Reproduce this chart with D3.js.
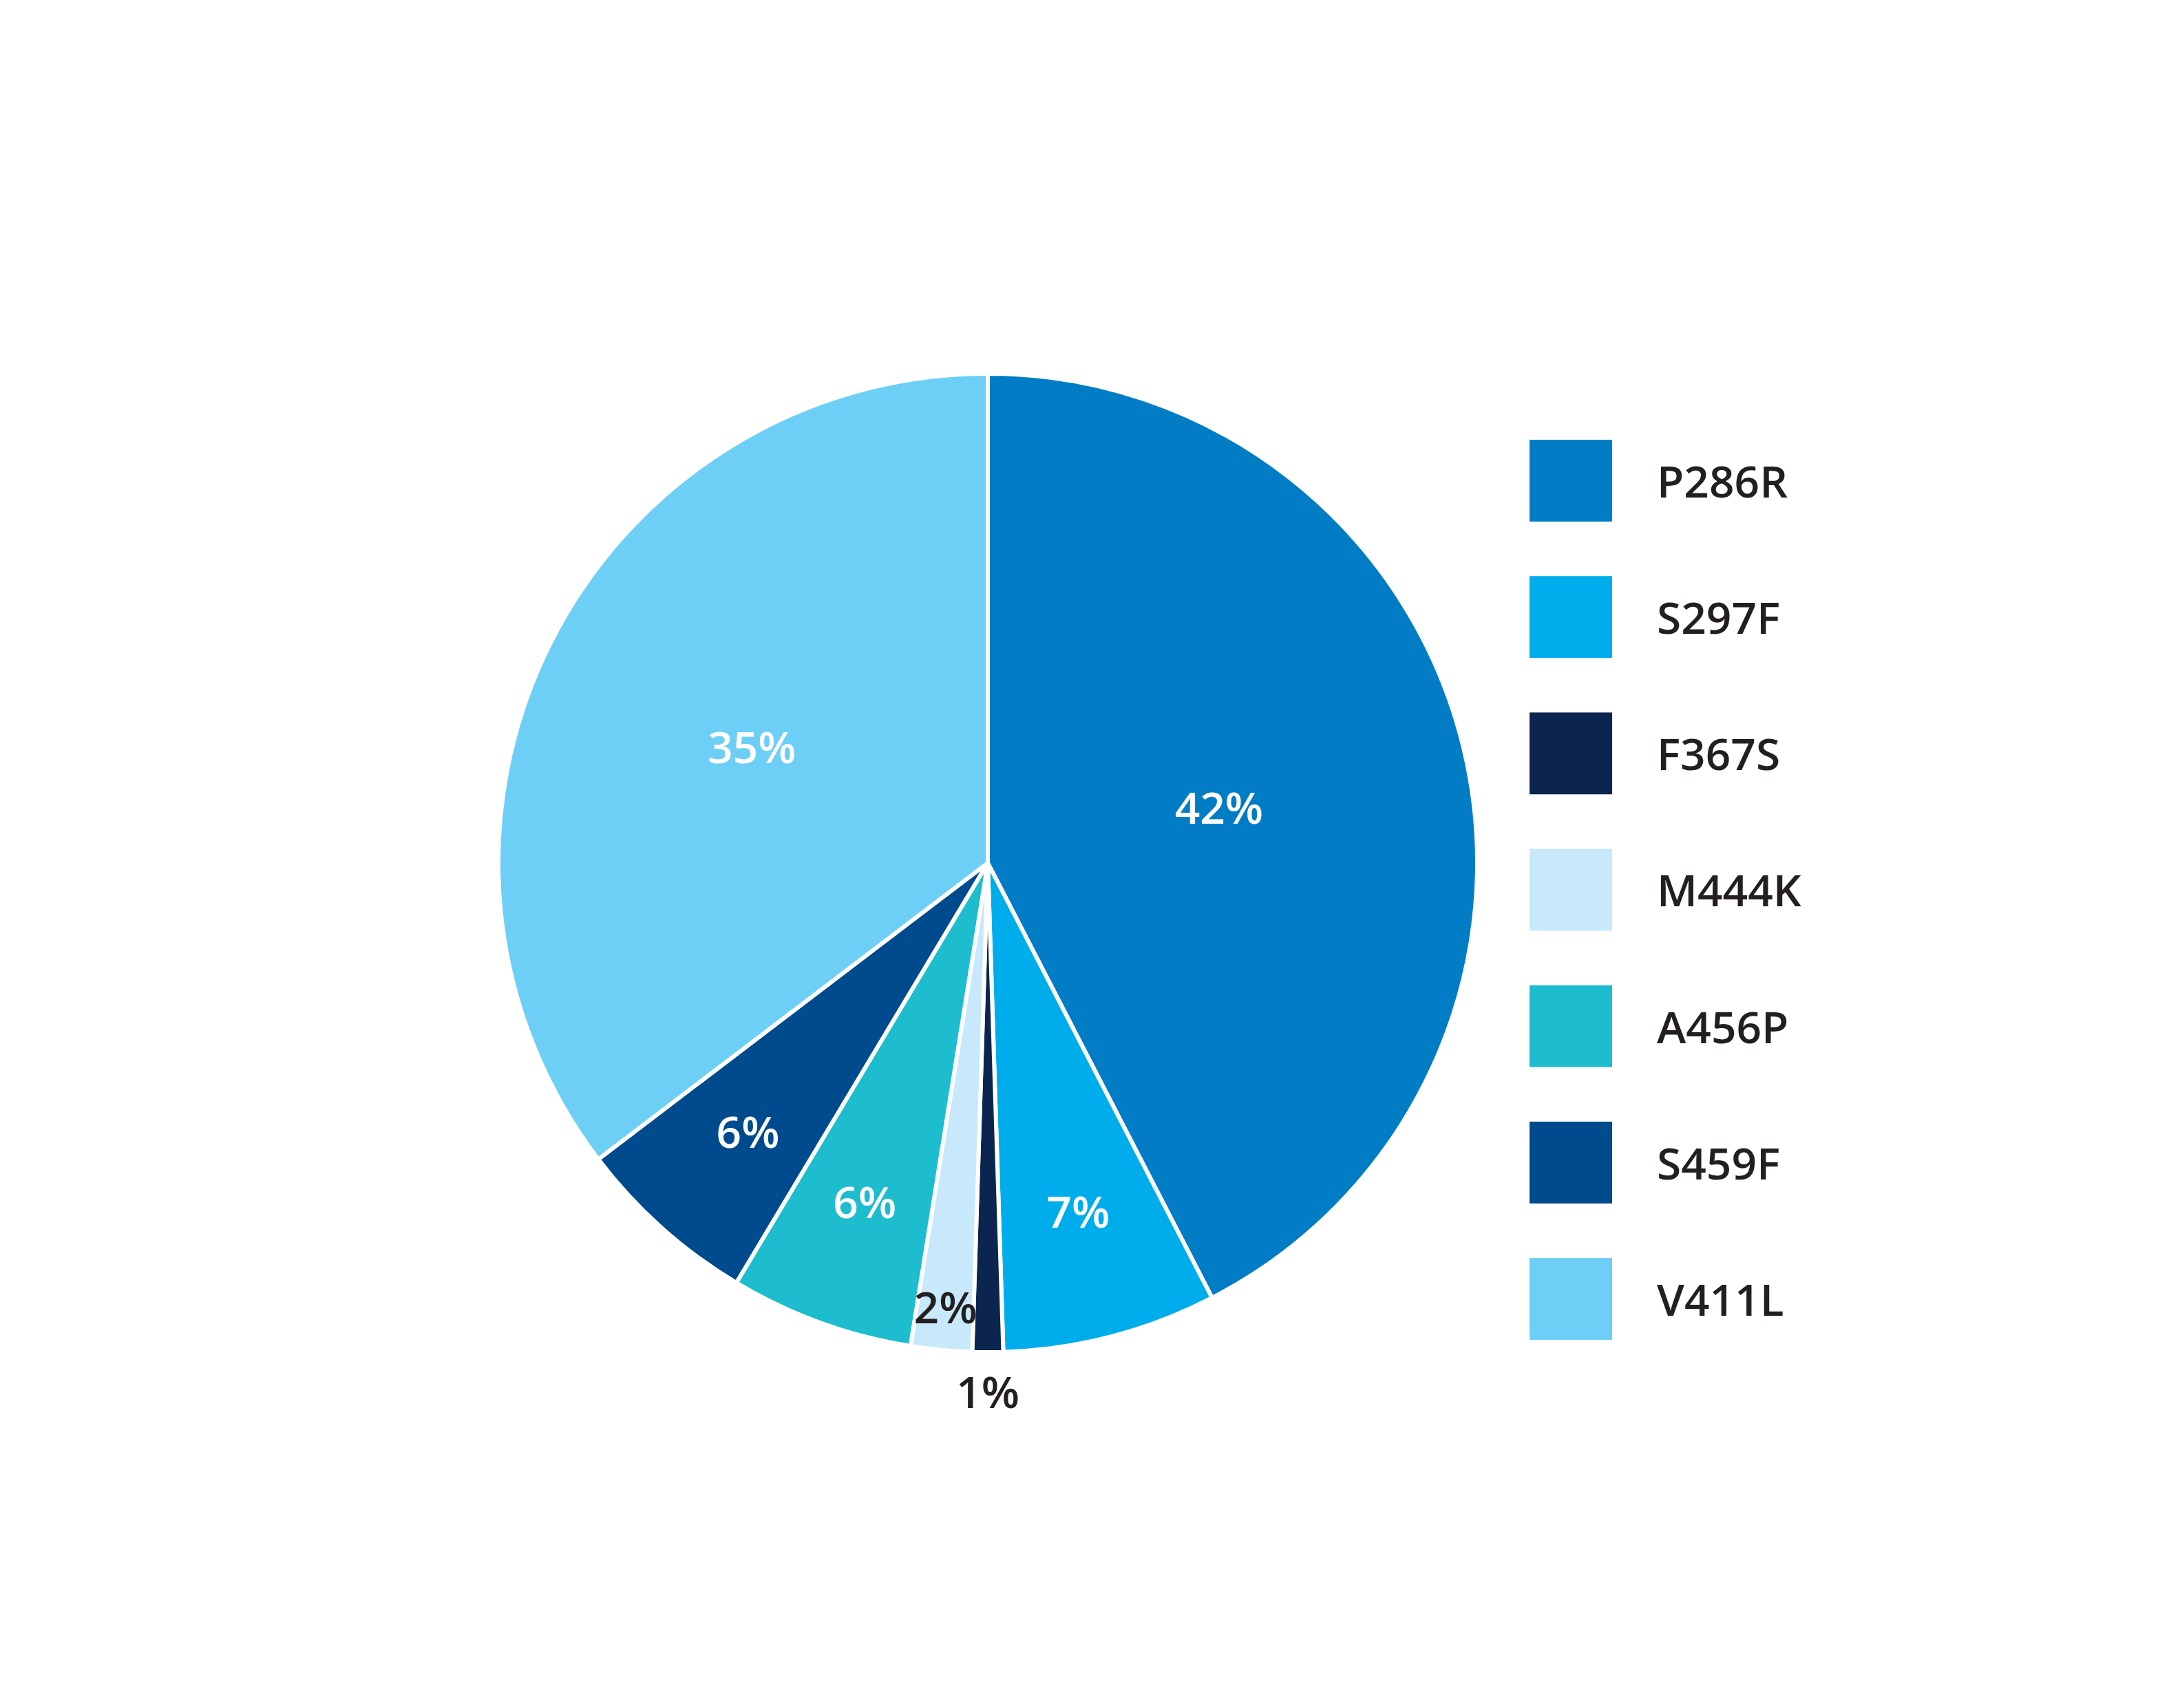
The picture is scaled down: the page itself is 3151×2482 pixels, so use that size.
<!DOCTYPE html>
<html>
<head>
<meta charset="utf-8">
<script src="https://cdn.jsdelivr.net/npm/d3@7"></script>
<style>
  html, body { margin: 0; padding: 0; background: #fff; }
  svg { display: block; }
</style>
</head>
<body>
<svg id="chart"></svg>
<script>
// chart data
const categories = ['P286R', 'S297F', 'F367S', 'M444K', 'A456P', 'S459F', 'V411L']
const shares = [42, 7, 1, 2, 6, 6, 35]
const colors = ['#027dc5', '#00adec', '#0b2550', '#c7e9fb', '#1dbdcf', '#004a8e', '#6dcff6']

const width = 3151
const height = 2482
const cx = 1435
const cy = 1254
const radius = 711
const darkText = '#231f20'
const font = "'Open Sans', 'DejaVu Sans', sans-serif"

const rows = categories.map((c, i) => ({ name: c, value: shares[i], color: colors[i] }))

const svg = d3.select('#chart').attr('width', width).attr('height', height)
svg.append('rect').attr('width', width).attr('height', height).attr('fill', '#fff')

const pie = d3.pie().sort(null).value((d) => d.value)
const arcs = pie(rows)

const arc = d3.arc().innerRadius(0).outerRadius(radius)

const g = svg.append('g').attr('transform', `translate(${cx},${cy})`)

g.selectAll('path.slice')
  .data(arcs)
  .enter()
  .append('path')
  .attr('class', 'slice')
  .attr('d', arc)
  .attr('fill', (d) => d.data.color)
  .attr('stroke', '#fff')
  .attr('stroke-width', 6)
  .attr('stroke-linejoin', 'round')

// big slices: label at the area centroid of the sector,
// small ones get pushed out towards the rim (or past it)
const labelFactor = (d) => {
  const v = d.data.value
  if (v < 1.5) return 1.08
  if (v < 3) return 0.91
  if (v < 10) return 0.735
  const t = d.endAngle - d.startAngle
  return (4 * Math.sin(t / 2)) / (3 * t)
}

g.selectAll('text.pct')
  .data(arcs)
  .enter()
  .append('text')
  .attr('class', 'pct')
  .attr('transform', (d) => {
    const r = radius * labelFactor(d)
    const c = d3.arc().innerRadius(r).outerRadius(r).centroid(d)
    return `translate(${c[0]},${c[1]})`
  })
  .attr('text-anchor', 'middle')
  .attr('dominant-baseline', 'central')
  .attr('font-family', font)
  .attr('font-size', 64)
  .attr('font-weight', 600)
  .attr('fill', (d) => {
    const outside = labelFactor(d) > 1
    return outside || d3.hsl(d.data.color).l > 0.8 ? darkText : '#fff'
  })
  .text((d) => `${d.data.value}%`)

// legend
const legendY = d3.scaleBand().domain(categories).range([639, 1947]).paddingInner(0.4)

const legend = svg
  .append('g')
  .selectAll('g')
  .data(rows)
  .enter()
  .append('g')
  .attr('transform', (d) => `translate(2222,${legendY(d.name)})`)

legend
  .append('rect')
  .attr('width', 120)
  .attr('height', legendY.bandwidth())
  .attr('fill', (d) => d.color)

legend
  .append('text')
  .attr('x', 185)
  .attr('y', legendY.bandwidth() / 2)
  .attr('dominant-baseline', 'central')
  .attr('font-family', font)
  .attr('font-size', 64)
  .attr('font-weight', 600)
  .attr('fill', darkText)
  .text((d) => d.name)
</script>
</body>
</html>
